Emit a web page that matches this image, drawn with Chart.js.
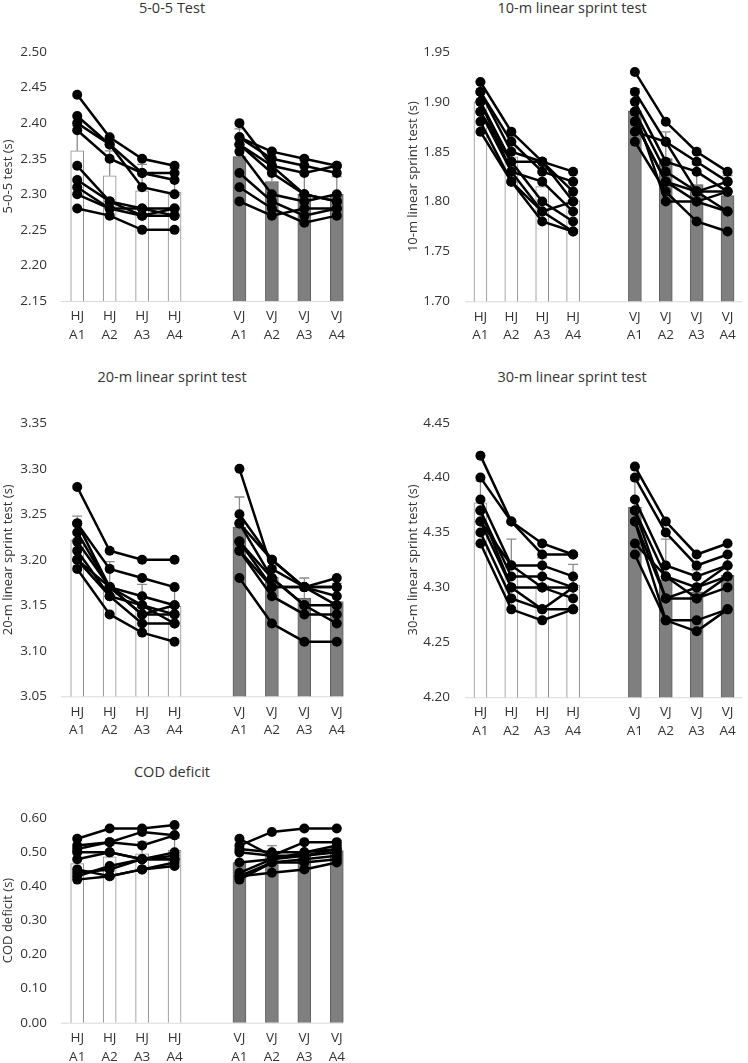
<!DOCTYPE html>
<html>
<head>
<meta charset="utf-8">
<script src="https://cdn.jsdelivr.net/npm/chart.js@4.4.0/dist/chart.umd.min.js"></script>
<style>
  body { margin: 0; background: #fff; width: 748px; height: 1063px; position: relative; overflow: hidden; font-family: 'Open Sans', sans-serif; }
  canvas { position: absolute; }
  .title { position: absolute; font-size: 14.5px; line-height: 16px; color: #333; white-space: nowrap; transform: translateX(-50%); }
</style>
</head>
<body>
<div class="title" style="left:172px;top:0px">5-0-5 Test</div>
<div class="title" style="left:572px;top:0px">10-m linear sprint test</div>
<div class="title" style="left:172px;top:369px">20-m linear sprint test</div>
<div class="title" style="left:572px;top:369px">30-m linear sprint test</div>
<div class="title" style="left:172px;top:764px">COD deficit</div>

<canvas id="c505" width="374" height="350" style="left:0;top:0"></canvas>
<canvas id="c10" width="374" height="350" style="left:374px;top:0"></canvas>
<canvas id="c20" width="374" height="395" style="left:0;top:350px"></canvas>
<canvas id="c30" width="374" height="395" style="left:374px;top:350px"></canvas>
<canvas id="cCod" width="374" height="313" style="left:0;top:750px"></canvas>

<script>
// x categories (blank slot between the two jump groups)
const categories = [['HJ', 'A1'], ['HJ', 'A2'], ['HJ', 'A3'], ['HJ', 'A4'], '', ['VJ', 'A1'], ['VJ', 'A2'], ['VJ', 'A3'], ['VJ', 'A4']];

// 5-0-5 test
const t505HJMean = [2.361, 2.326, 2.305, 2.303];
const t505HJSd = [0.035, 0.035, 0.037, 0.033];
const t505VJMean = [2.353, 2.318, 2.300, 2.300];
const t505VJSd = [0.039, 0.030, 0.030, 0.025];
const t505HJ = [
    [2.44, 2.38, 2.35, 2.34],
    [2.41, 2.37, 2.33, 2.33],
    [2.40, 2.37, 2.31, 2.30],
    [2.39, 2.35, 2.33, 2.32],
    [2.34, 2.29, 2.28, 2.28],
    [2.32, 2.29, 2.27, 2.28],
    [2.31, 2.28, 2.28, 2.27],
    [2.30, 2.28, 2.27, 2.27],
    [2.28, 2.27, 2.25, 2.25]
];
const t505VJ = [
    [2.40, 2.34, 2.30, 2.29],
    [2.38, 2.36, 2.35, 2.34],
    [2.38, 2.35, 2.34, 2.33],
    [2.37, 2.34, 2.33, 2.34],
    [2.36, 2.30, 2.29, 2.30],
    [2.33, 2.29, 2.27, 2.28],
    [2.31, 2.28, 2.26, 2.27],
    [2.29, 2.27, 2.28, 2.28],
    [2.37, 2.33, 2.30, 2.29]
];

// 10-m sprint
const s10HJMean = [1.900, 1.845, 1.815, 1.801];
const s10HJSd = [0.020, 0.020, 0.020, 0.020];
const s10VJMean = [1.891, 1.843, 1.817, 1.806];
const s10VJSd = [0.022, 0.027, 0.020, 0.020];
const s10HJ = [
    [1.92, 1.87, 1.84, 1.83],
    [1.91, 1.86, 1.83, 1.82],
    [1.91, 1.85, 1.84, 1.81],
    [1.90, 1.84, 1.84, 1.80],
    [1.90, 1.83, 1.82, 1.79],
    [1.89, 1.84, 1.80, 1.78],
    [1.88, 1.82, 1.79, 1.80],
    [1.87, 1.82, 1.78, 1.77],
    [1.89, 1.83, 1.79, 1.77]
];
const s10VJ = [
    [1.93, 1.88, 1.85, 1.83],
    [1.91, 1.86, 1.84, 1.82],
    [1.90, 1.84, 1.83, 1.81],
    [1.89, 1.83, 1.81, 1.81],
    [1.88, 1.82, 1.80, 1.79],
    [1.87, 1.86, 1.81, 1.82],
    [1.86, 1.81, 1.78, 1.77],
    [1.89, 1.80, 1.80, 1.81],
    [1.88, 1.82, 1.81, 1.79]
];

// 20-m sprint
const s20HJMean = [3.222, 3.168, 3.148, 3.149];
const s20HJSd = [0.026, 0.030, 0.025, 0.020];
const s20VJMean = [3.236, 3.181, 3.158, 3.154];
const s20VJSd = [0.033, 0.020, 0.022, 0.020];
const s20HJ = [
    [3.28, 3.21, 3.20, 3.20],
    [3.24, 3.19, 3.18, 3.17],
    [3.23, 3.17, 3.16, 3.15],
    [3.22, 3.17, 3.15, 3.14],
    [3.21, 3.16, 3.15, 3.13],
    [3.20, 3.17, 3.14, 3.14],
    [3.20, 3.16, 3.13, 3.13],
    [3.19, 3.14, 3.12, 3.11],
    [3.24, 3.17, 3.14, 3.15]
];
const s20VJ = [
    [3.30, 3.19, 3.17, 3.17],
    [3.25, 3.20, 3.17, 3.18],
    [3.24, 3.20, 3.17, 3.16],
    [3.24, 3.18, 3.15, 3.15],
    [3.22, 3.17, 3.17, 3.17],
    [3.21, 3.16, 3.14, 3.14],
    [3.22, 3.18, 3.15, 3.13],
    [3.18, 3.13, 3.11, 3.11],
    [3.21, 3.17, 3.17, 3.15]
];

// 30-m sprint
const s30HJMean = [4.377, 4.319, 4.302, 4.302];
const s30HJSd = [0.020, 0.025, 0.025, 0.019];
const s30VJMean = [4.373, 4.307, 4.296, 4.311];
const s30VJSd = [0.025, 0.037, 0.020, 0.020];
const s30HJ = [
    [4.42, 4.36, 4.33, 4.33],
    [4.40, 4.36, 4.34, 4.33],
    [4.38, 4.32, 4.32, 4.31],
    [4.37, 4.31, 4.31, 4.30],
    [4.37, 4.30, 4.30, 4.29],
    [4.36, 4.30, 4.28, 4.30],
    [4.35, 4.29, 4.28, 4.28],
    [4.34, 4.28, 4.27, 4.28],
    [4.36, 4.32, 4.30, 4.30]
];
const s30VJ = [
    [4.41, 4.36, 4.33, 4.34],
    [4.40, 4.35, 4.32, 4.33],
    [4.38, 4.32, 4.31, 4.32],
    [4.37, 4.31, 4.30, 4.31],
    [4.37, 4.29, 4.29, 4.31],
    [4.36, 4.27, 4.27, 4.28],
    [4.34, 4.31, 4.29, 4.30],
    [4.33, 4.27, 4.26, 4.28],
    [4.36, 4.29, 4.30, 4.32]
];

// COD deficit
const codHJMean = [0.467, 0.487, 0.496, 0.507];
const codHJSd = [0.035, 0.035, 0.035, 0.035];
const codVJMean = [0.470, 0.488, 0.496, 0.505];
const codVJSd = [0.035, 0.032, 0.030, 0.030];
const codHJ = [
    [0.54, 0.57, 0.57, 0.58],
    [0.52, 0.53, 0.56, 0.55],
    [0.51, 0.53, 0.52, 0.55],
    [0.50, 0.50, 0.48, 0.50],
    [0.48, 0.50, 0.48, 0.48],
    [0.45, 0.43, 0.45, 0.47],
    [0.43, 0.46, 0.48, 0.48],
    [0.42, 0.43, 0.45, 0.46],
    [0.44, 0.45, 0.48, 0.49]
];
const codVJ = [
    [0.52, 0.56, 0.57, 0.57],
    [0.54, 0.49, 0.53, 0.53],
    [0.51, 0.50, 0.50, 0.52],
    [0.50, 0.49, 0.49, 0.51],
    [0.47, 0.48, 0.49, 0.50],
    [0.44, 0.48, 0.50, 0.51],
    [0.43, 0.47, 0.48, 0.49],
    [0.43, 0.44, 0.45, 0.47],
    [0.42, 0.47, 0.47, 0.48]
];

Chart.defaults.font.family = "'Open Sans', sans-serif";
Chart.defaults.color = '#333';

// place a 4-value group on the HJ side or the VJ side of the 9 slots
function onSide(values, side) {
    const blank = [null, null, null, null, null];
    return side === 'HJ' ? values.concat(blank) : blank.concat(values);
}

// error bars (plus only) + light x axis line
const errorBarPlugin = {
    id: 'errorBars',
    beforeDatasetsDraw(chart, args, opts) {
        const { ctx, chartArea } = chart;
        ctx.save();
        ctx.strokeStyle = '#d9d9d9';
        ctx.lineWidth = 1;
        ctx.beginPath();
        ctx.moveTo(chartArea.left, chartArea.bottom + 0.5);
        ctx.lineTo(chartArea.right - opts.axisTrim, chartArea.bottom + 0.5);
        ctx.stroke();
        ctx.restore();
    },
    afterDatasetDraw(chart, args, opts) {
        if (args.index !== 0) return;
        const ctx = chart.ctx;
        const x = chart.scales.x, y = chart.scales.y;
        ctx.save();
        ctx.strokeStyle = '#8c8c8c';
        ctx.lineWidth = 1.3;
        opts.means.forEach((m, i) => {
            if (m == null) return;
            const px = x.getPixelForValue(i);
            const base = y.getPixelForValue(m);
            const top = y.getPixelForValue(m + opts.sd[i]);
            ctx.beginPath();
            ctx.moveTo(px, base);
            ctx.lineTo(px, top);
            ctx.moveTo(px - 5, top);
            ctx.lineTo(px + 5, top);
            ctx.stroke();
        });
        ctx.restore();
    }
};

function makePanel(id, p) {
    const means = [...p.hjMean, null, ...p.vjMean];
    const sd = [...p.hjSd, 0, ...p.vjSd];

    const datasets = [{
        type: 'bar',
        data: means,
        backgroundColor: means.map((v, i) => i < 4 ? '#ffffff' : '#7f7f7f'),
        borderColor: means.map((v, i) => i < 4 ? '#8c8c8c' : '#5f5f5f'),
        borderWidth: 1,
        barThickness: 13,
        order: 2
    }];
    const addLines = (rows, side) => rows.forEach(r => datasets.push({
        type: 'line',
        data: onSide(r, side),
        borderColor: '#000',
        borderWidth: 2.5,
        pointRadius: 5,
        pointBackgroundColor: '#000',
        pointBorderWidth: 0,
        spanGaps: false,
        order: 1
    }));
    addLines(p.hj, 'HJ');
    addLines(p.vj, 'VJ');

    new Chart(document.getElementById(id), {
        type: 'bar',
        data: { labels: categories, datasets: datasets },
        options: {
            responsive: false,
            animation: false,
            devicePixelRatio: 1,
            layout: { padding: { top: p.top, right: p.right, bottom: 0, left: 0 } },
            plugins: {
                legend: { display: false },
                tooltip: { enabled: false },
                errorBars: { means: means, sd: sd, axisTrim: p.axisTrim }
            },
            scales: {
                x: {
                    grid: { display: false, drawTicks: false },
                    border: { display: false },
                    ticks: { autoSkip: false, maxRotation: 0, padding: 6, color: '#333', font: { size: 13.5, lineHeight: 1.4 } },
                    afterFit: s => { s.height = p.xHeight; }
                },
                y: {
                    min: p.min, max: p.max,
                    grid: { display: false, drawTicks: false },
                    border: { display: false },
                    ticks: { stepSize: p.step, padding: p.tickPad, color: '#333', font: { size: 13.5 }, callback: v => v.toFixed(2) },
                    title: { display: true, text: p.yTitle, color: '#333', font: { size: 13 }, padding: { top: p.titlePad, bottom: 0 } },
                    afterFit: s => { s.width = p.yWidth; }
                }
            }
        },
        plugins: [errorBarPlugin]
    });
}

makePanel('c505', {
    hjMean: t505HJMean, hjSd: t505HJSd, vjMean: t505VJMean, vjSd: t505VJSd, hj: t505HJ, vj: t505VJ,
    min: 2.15, max: 2.50, step: 0.05, yTitle: '5-0-5 test (s)',
    top: 52, right: 21, yWidth: 61, xHeight: 49, tickPad: 14, titlePad: 0, axisTrim: 10
});
makePanel('c10', {
    hjMean: s10HJMean, hjSd: s10HJSd, vjMean: s10VJMean, vjSd: s10VJSd, hj: s10HJ, vj: s10VJ,
    min: 1.70, max: 1.95, step: 0.05, yTitle: '10-m linear sprint test (s)',
    top: 52, right: 0, yWidth: 91, xHeight: 48.7, tickPad: 15, titlePad: 31, axisTrim: 1
});
makePanel('c20', {
    hjMean: s20HJMean, hjSd: s20HJSd, vjMean: s20VJMean, vjSd: s20VJSd, hj: s20HJ, vj: s20VJ,
    min: 3.05, max: 3.35, step: 0.05, yTitle: '20-m linear sprint test (s)',
    top: 73.3, right: 21, yWidth: 61, xHeight: 48.7, tickPad: 14, titlePad: 0, axisTrim: 10
});
makePanel('c30', {
    hjMean: s30HJMean, hjSd: s30HJSd, vjMean: s30VJMean, vjSd: s30VJSd, hj: s30HJ, vj: s30VJ,
    min: 4.20, max: 4.45, step: 0.05, yTitle: '30-m linear sprint test (s)',
    top: 72.7, right: 0, yWidth: 91, xHeight: 47.8, tickPad: 15, titlePad: 31, axisTrim: 1
});
makePanel('cCod', {
    hjMean: codHJMean, hjSd: codHJSd, vjMean: codVJMean, vjSd: codVJSd, hj: codHJ, vj: codVJ,
    min: 0, max: 0.60, step: 0.10, yTitle: 'COD deficit (s)',
    top: 68.3, right: 21, yWidth: 61, xHeight: 40.3, tickPad: 14, titlePad: 0, axisTrim: 10
});
</script>
</body>
</html>
